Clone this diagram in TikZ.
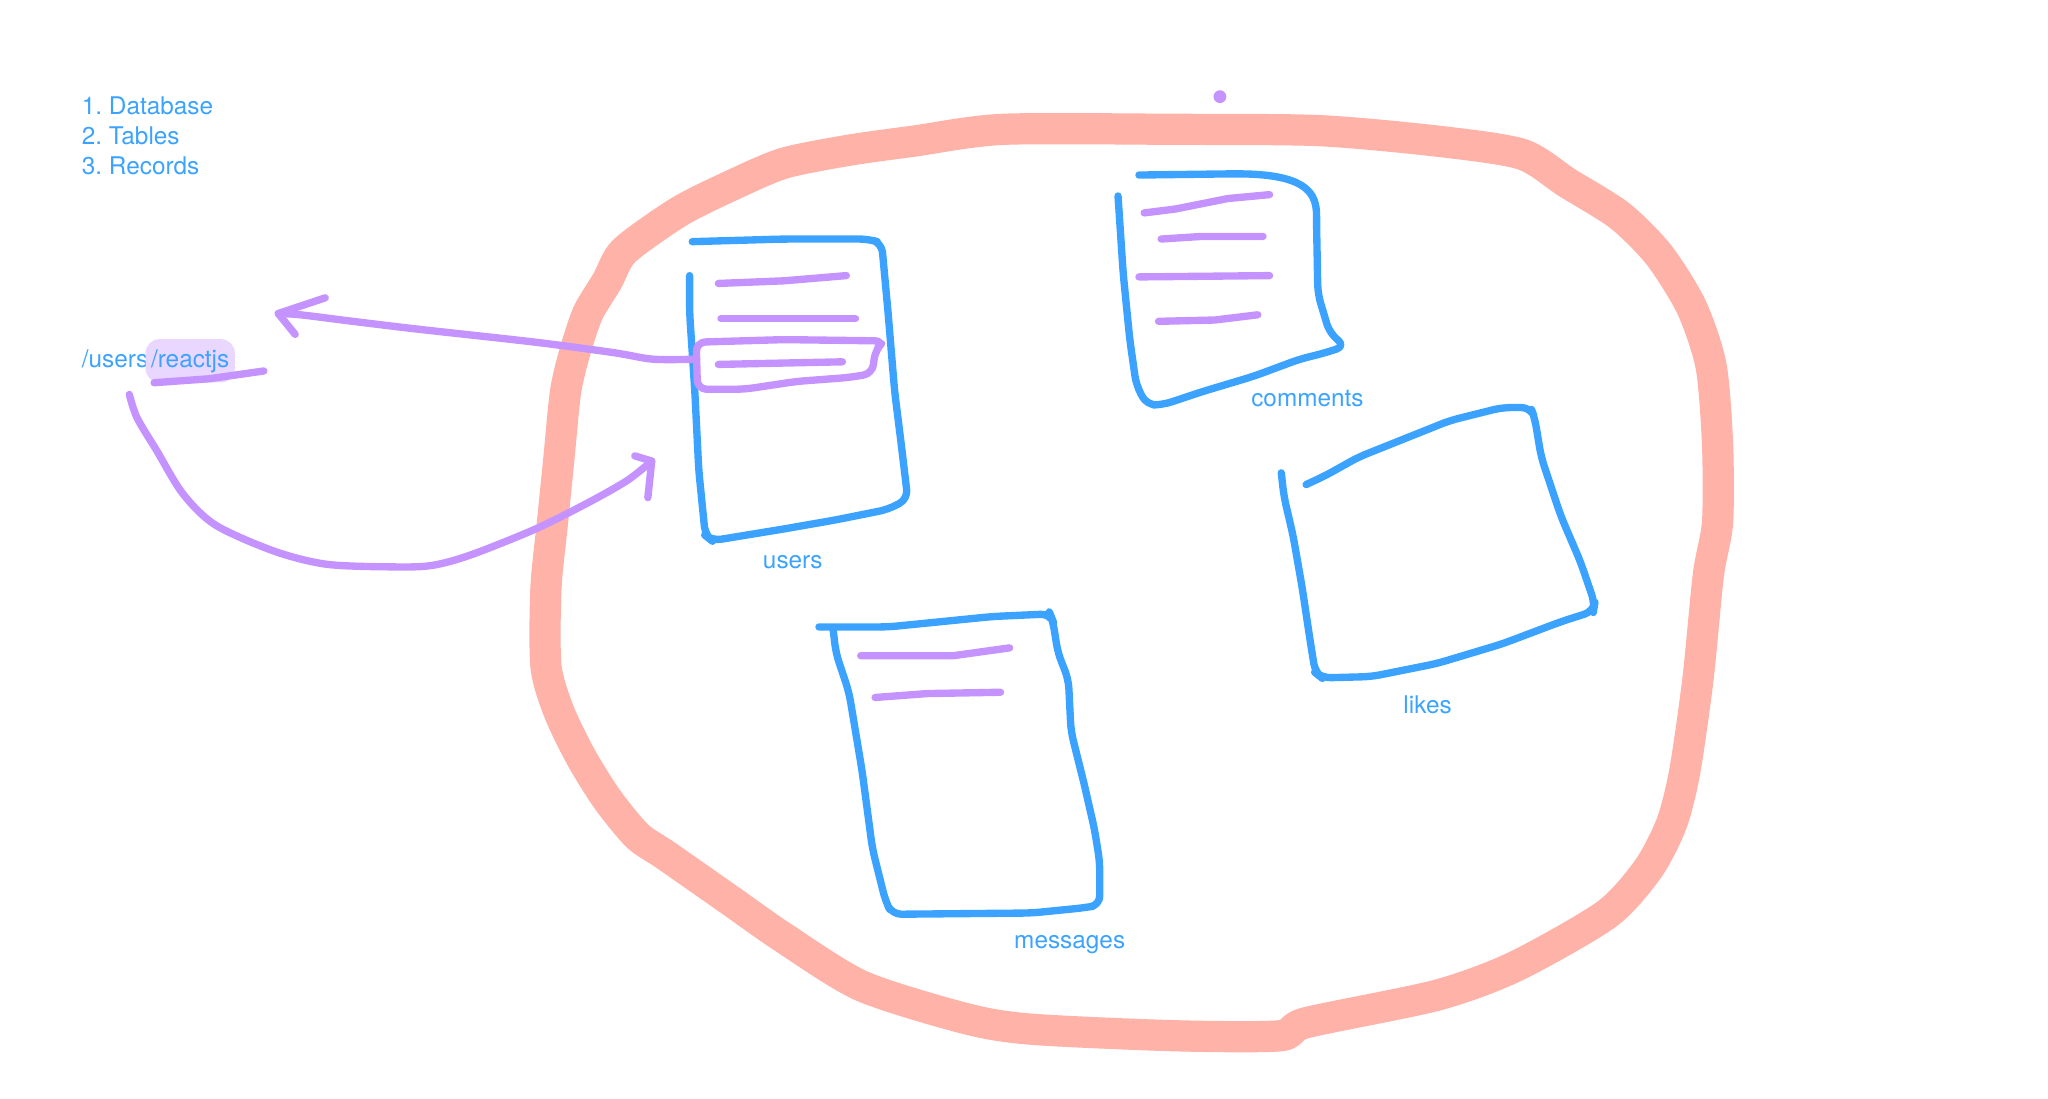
\documentclass[tikz,border=0pt]{standalone}
\usepackage{fontspec}
\setmainfont{TeX Gyre Heros}
\usetikzlibrary{positioning}
\definecolor{inkblue}{RGB}{59,163,255}
\definecolor{inkpurple}{RGB}{196,147,255}
\definecolor{inkpink}{RGB}{255,178,168}
\definecolor{hilite}{RGB}{233,215,255}

\begin{document}
\begin{tikzpicture}[x=0.01cm, y=-0.01cm,
    pen/.style={line width=1.6pt, line cap=round, line join=round},
    bluepen/.style={pen, draw=inkblue, rounded corners=2pt},
    purplepen/.style={pen, draw=inkpurple},
    lbl/.style={text=inkblue, font=\fontsize{5.3}{6.5}\selectfont\frenchspacing, inner sep=0pt}]
    \useasboundingbox (0,0) rectangle (1568,841);

    % the database
    \draw[inkpink, line width=6.8pt, line join=round] plot[smooth cycle, tension=0.45] coordinates {
        (768,99) (900,99) (1010,100) (1100,108) (1165,118) (1200,140) (1240,165)
        (1270,195) (1295,235) (1310,280) (1315,340) (1315,400) (1308,440) (1300,520)
        (1290,590) (1280,630) (1262,665) (1230,700) (1160,740) (1100,762) (1000,783)
        (980,793) (900,793) (790,788) (740,780) (660,755) (600,718) (560,690)
        (510,655) (488,640) (465,612) (445,580) (428,545) (418,510) (418,450)
        (423,400) (428,350) (433,300) (440,270) (450,240) (465,215) (478,192)
        (520,162) (560,142) (600,125) (650,115) (700,108)};
    \fill[inkpurple] (934,74) circle (1.4pt);

    \foreach \t [count=\i] in {Database, Tables, Records}
        \node[lbl, anchor=base west] (item\i) at (62,64.5+23*\i) {\i. \t};

    % tables
    \draw[bluepen] (530,185) -- (600,183) -- (665,183) -- (675,186) -- (680,240) -- (685,300)
        -- (690,340) -- (695,382) -- (680,390) -- (640,398) -- (600,405) -- (545,414)
        -- (540,410) -- (535,360) -- (532,300) -- (528,240) -- (528,211);
    \draw[purplepen] (550,217) -- (600,215) -- (648,211);
    \draw[purplepen] (552,244) -- (655,244);
    \draw[purplepen] (550,279) -- (645,277);
    \draw[purplepen, rounded corners=2pt] (533,262) -- (600,260) -- (677,261) -- (670,268)
        -- (668,286) -- (650,289) -- (610,292) -- (570,298) -- (534,298) -- cycle;
    \node[lbl, anchor=base] (users) at (607,435) {users};

    \draw[bluepen] (872,134) -- (950,133) .. controls (1000,135) and (1008,148) .. (1008,172)
        -- (1009,225) -- (1018,255) -- (1030,265) -- (1015,270) -- (995,275) -- (960,288)
        -- (920,300) -- (890,310) -- (878,310) -- (870,295) -- (865,260) -- (860,210) -- (856,150);
    \draw[purplepen] (876,163) -- (900,160) -- (940,152) -- (972,149);
    \draw[purplepen] (889,183) -- (920,181) -- (967,181);
    \draw[purplepen] (872,212) -- (972,211);
    \draw[purplepen] (887,246) -- (930,245) -- (963,241);
    \node[lbl, anchor=base] (comments) at (1001,311) {comments};

    \draw[bluepen] (627,480) -- (680,480) -- (700,478) -- (760,472) -- (804,470) -- (806,475)
        -- (810,500) -- (818,520) -- (820,560) -- (830,600) -- (838,635) -- (842,660)
        -- (842,693) -- (830,695) -- (790,699) -- (683,700) -- (678,690) -- (668,650)
        -- (660,590) -- (650,530) -- (640,500) -- (638,483);
    \draw[purplepen] (659,502) -- (730,502) -- (773,496);
    \draw[purplepen] (670,534) -- (710,531) -- (766,530);
    \node[lbl, anchor=base] (messages) at (819,726) {messages};

    \draw[bluepen] (981,362) -- (983,380) -- (990,410) -- (997,450) -- (1003,490) -- (1007,515)
        -- (1012,519) -- (1050,518) -- (1100,508) -- (1150,493) -- (1195,476) -- (1220,468)
        -- (1221,462) -- (1210,430) -- (1195,395) -- (1180,350) -- (1175,320) -- (1172,312)
        -- (1150,312) -- (1110,322) -- (1075,336) -- (1040,350) -- (1015,364) -- (1000,371);
    \node[lbl, anchor=base] (likes) at (1093,546) {likes};

    % request path
    \node[lbl, anchor=base west] (route) at (62,281) {/users};
    \node[lbl, fill=hilite, rounded corners=3pt, inner xsep=1.2pt, inner ysep=2.2pt,
        anchor=base west] (slug) at ([xshift=-1pt]route.base east) {/reactjs};
    \draw[purplepen] (118,293) -- (160,290) -- (202,284);

    \coordinate (rec) at (533,275);
    \coordinate (tipL) at (213,240);
    \coordinate (start) at (99,302);
    \coordinate (tipR) at (499,353);
    \draw[purplepen] plot[smooth, tension=0.5] coordinates {(rec) (500,275) (470,270) (410,262)
        (320,252) (270,246) (230,241) (tipL)};
    \draw[purplepen] (tipL) ++(36,-12) -- (tipL) -- ++(13,16);
    \draw[purplepen] plot[smooth, tension=0.5] coordinates {(start) (105,320) (120,345) (140,378)
        (165,402) (210,422) (250,432) (300,434) (330,433) (360,425) (410,405) (450,385)
        (480,368) (tipR)};
    \draw[purplepen] (tipR) ++(-13,-4) -- (tipR) -- ++(-3,28);
\end{tikzpicture}
\end{document}
